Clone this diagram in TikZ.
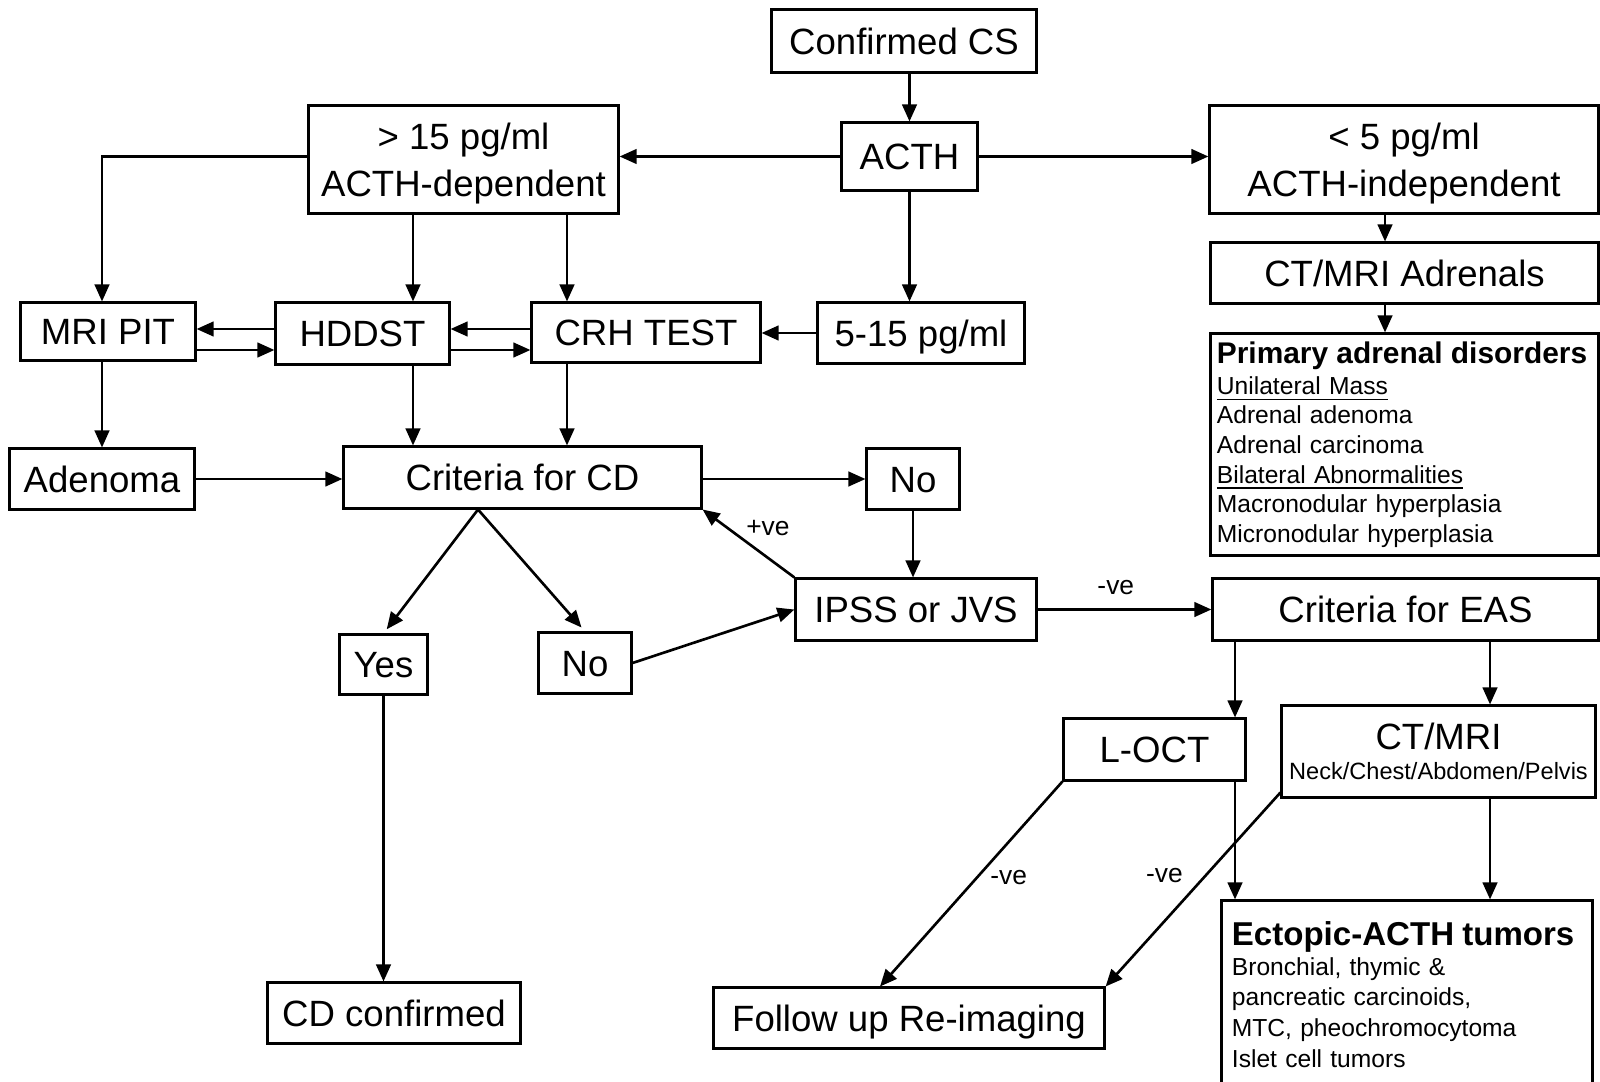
\documentclass[tikz,border=0pt]{standalone}
\usepackage{fontspec}
\setmainfont{Liberation Sans}
\usetikzlibrary{arrows.meta,calc}

\begin{document}
\begin{tikzpicture}[x=0.01cm, y=-0.01cm,
    box/.style={rectangle, draw=black, line width=0.85pt, inner sep=0pt,
                align=center, font=\fontsize{10.4}{13.4}\selectfont,
                text height=7.5pt, text depth=0pt},
    twobox/.style={box, text height={}, text depth=0pt},
    listbox/.style={box, align=left, text height={}, text depth={},
                    font=\fontsize{7}{8.4}\selectfont},
    arr/.style={-{Triangle[length=1.7mm, width=1.45mm]}, line width=0.75pt},
    lbl/.style={font=\fontsize{7.5}{9}\selectfont, inner sep=0pt}
  ]
    \useasboundingbox (0,0) rectangle (1600,1082);

    % columns and rows used by the connectors
    \coordinate (c0) at (102,0);
    \coordinate (c1) at (413,0);
    \coordinate (c2) at (567,0);
    \coordinate (c3) at (478,0);
    \coordinate (c4) at (1235,0);
    \coordinate (c5) at (1490,0);
    \coordinate (c6) at (880,0);
    \coordinate (c7) at (1385,0);
    \coordinate (r1) at (0,329);
    \coordinate (r2) at (0,350);

    % Top: confirmed CS and ACTH levels
    \node[box, minimum width=2.64cm, minimum height=0.62cm] (cs) at (904,41) {Confirmed CS};
    \node[box, minimum width=1.35cm, minimum height=0.67cm] (acth) at (909.5,156.5) {ACTH};
    \node[twobox, minimum width=3.09cm, minimum height=1.07cm] (dep) at (463.5,159.5)
      {> 15 pg/ml\\ACTH-dependent};
    \node[twobox, minimum width=3.88cm, minimum height=1.07cm] (indep) at (1404,159.5)
      {< 5 pg/ml\\ACTH-independent};
    \node[box, minimum width=2.06cm, minimum height=0.60cm] (mid) at (921,333) {5-15 pg/ml};
    \draw[arr] (cs.south -| acth.north) -- (acth.north);
    \draw[arr] (acth.west) -- (acth.west -| dep.east);
    \draw[arr] (acth.east) -- (acth.east -| indep.west);
    \draw[arr] (acth.south) -- (acth.south |- mid.north);

    % ACTH-independent branch
    \node[box, minimum width=3.87cm, minimum height=0.60cm] (adr) at (1404.5,273) {CT/MRI Adrenals};
    \node[listbox, minimum width=3.87cm, minimum height=2.21cm, text width=3.75cm] (prim) at (1404.5,444.5)
      {{\fontsize{8.5}{8.4}\selectfont\bfseries Primary adrenal disorders}\\[0.4pt]
       \underline{Unilateral Mass}\\
       Adrenal adenoma\\
       Adrenal carcinoma\\
       \underline{Bilateral Abnormalities}\\
       Macronodular hyperplasia\\
       Micronodular hyperplasia};
    \draw[arr] (c7 |- indep.south) -- (c7 |- adr.north);
    \draw[arr] (c7 |- adr.south) -- (c7 |- prim.north);

    % ACTH-dependent tests
    \node[box, minimum width=1.74cm, minimum height=0.57cm] (mri) at (108,331.5) {MRI PIT};
    \node[box, minimum width=1.73cm, minimum height=0.61cm] (hddst) at (362.5,333.5) {HDDST};
    \node[box, minimum width=2.28cm, minimum height=0.59cm] (crh) at (646,332.5) {CRH TEST};
    \draw[arr] (acth.west -| dep.west) -| (c0 |- mri.north);
    \draw[arr] (c1 |- dep.south) -- (c1 |- hddst.north);
    \draw[arr] (c2 |- dep.south) -- (c2 |- crh.north);
    \draw[arr] (r1 -| hddst.west) -- (r1 -| mri.east);
    \draw[arr] (r2 -| mri.east) -- (r2 -| hddst.west);
    \draw[arr] (r1 -| crh.west) -- (r1 -| hddst.east);
    \draw[arr] (r2 -| hddst.east) -- (r2 -| crh.west);
    \draw[arr] (mid.west) -- (mid.west -| crh.east);

    % Criteria for CD
    \node[box, minimum width=1.84cm, minimum height=0.60cm] (aden) at (102,479) {Adenoma};
    \node[box, minimum width=3.57cm, minimum height=0.61cm] (ccd) at (522.5,477.5) {Criteria for CD};
    \node[box, minimum width=0.92cm, minimum height=0.60cm] (noA) at (913,479) {No};
    \node[box, minimum width=0.87cm, minimum height=0.59cm] (yes) at (383.5,664.5) {Yes};
    \node[box, minimum width=0.92cm, minimum height=0.60cm] (noB) at (585,663) {No};
    \node[box, minimum width=2.52cm, minimum height=0.60cm] (cdc) at (394,1013) {CD confirmed};
    \draw[arr] (c0 |- mri.south) -- (c0 |- aden.north);
    \draw[arr] (c1 |- hddst.south) -- (c1 |- ccd.north);
    \draw[arr] (c2 |- crh.south) -- (c2 |- ccd.north);
    \draw[arr] (aden.east) -- (aden.east -| ccd.west);
    \draw[arr] (aden.east -| ccd.east) -- (aden.east -| noA.west);
    \draw[arr, shorten >=1.5pt] (c3 |- ccd.south) -- (yes.north);
    \draw[arr, shorten >=1.5pt] (c3 |- ccd.south) -- (noB.north);
    \draw[arr] (yes.south) -- (yes.south |- cdc.north);

    % Sampling and EAS work-up
    \node[box, minimum width=2.40cm, minimum height=0.61cm] (ipss) at (916,609.5) {IPSS or JVS};
    \node[box, minimum width=3.85cm, minimum height=0.61cm] (eas) at (1405.5,609.5) {Criteria for EAS};
    \node[box, minimum width=1.81cm, minimum height=0.61cm] (loct) at (1154.5,749.5) {L-OCT};
    \node[twobox, minimum width=3.13cm, minimum height=0.91cm] (ctn) at (1438.5,751.5)
      {CT/MRI\\[-4.8pt]{\fontsize{6.7}{8}\selectfont Neck/Chest/Abdomen/Pelvis}};
    \node[box, minimum width=3.90cm, minimum height=0.60cm] (fup) at (909,1018) {Follow up Re-imaging};
    \node[listbox, font=\fontsize{7}{8.7}\selectfont, minimum width=3.70cm, minimum height=1.87cm,
          text width=3.5cm] (ect) at (1407,994.5)
      {{\fontsize{9.4}{8.7}\selectfont\bfseries Ectopic-ACTH tumors}\\[-0.3pt]
       Bronchial, thymic \&\\
       pancreatic carcinoids,\\
       MTC, pheochromocytoma\\
       Islet cell tumors};
    \draw[arr] (noA.south) -- (noA.south |- ipss.north);
    \draw[arr] (noB.east) -- (ipss.west);
    \draw[arr] (ipss.north west) -- node[lbl, pos=0.73, right=5pt] {+ve} (ccd.south east);
    \draw[arr] (ipss.east) -- node[lbl, pos=0.45, above=3.8pt] {-ve} (ipss.east -| eas.west);
    \draw[arr] (c4 |- eas.south) -- (c4 |- loct.north);
    \draw[arr] (c5 |- eas.south) -- (c5 |- ctn.north);
    \draw[arr] (c4 |- loct.south) -- (c4 |- ect.north);
    \draw[arr] (c5 |- ctn.south) -- (c5 |- ect.north);
    \draw[arr] (loct.south west) -- node[lbl, pos=0.47, right=3.5pt] {-ve} (c6 |- fup.north);
    \draw[arr] ([yshift=0.06cm]ctn.south west) -- node[lbl, pos=0.43, left=6pt] {-ve} (fup.north east);
\end{tikzpicture}
\end{document}
